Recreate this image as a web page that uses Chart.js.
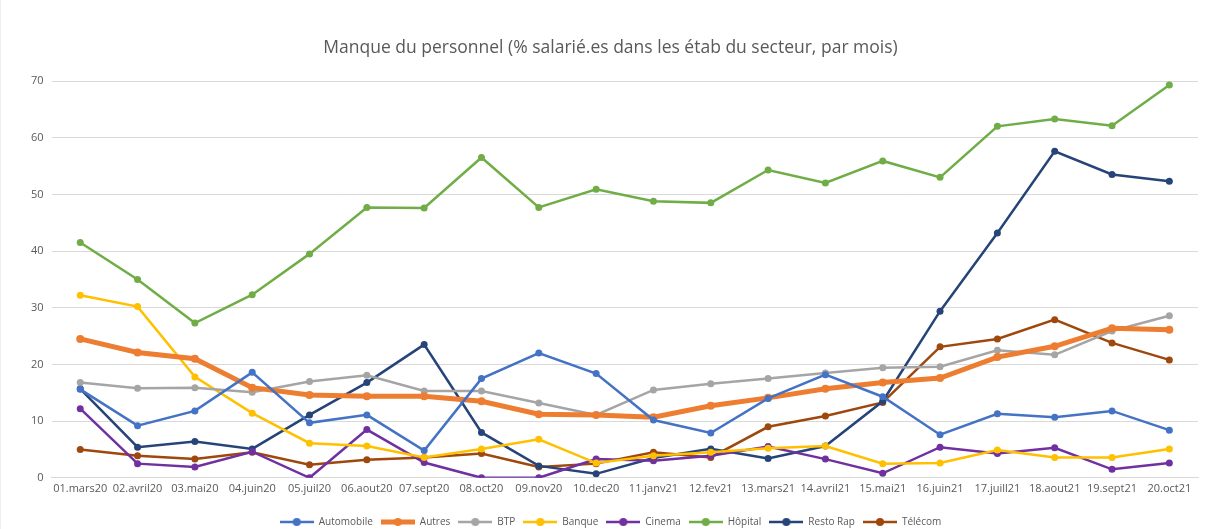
<!DOCTYPE html>
<html>
<head>
<meta charset="utf-8">
<script src="https://cdn.jsdelivr.net/npm/chart.js@4"></script>
<style>
  html, body { margin: 0; padding: 0; background: #fff; }
  #wrap { position: relative; width: 1208px; height: 529px; box-sizing: border-box; border-left: 1px solid #eee; }
</style>
</head>
<body>
<div id="wrap"><canvas id="myChart"></canvas></div>
<script>
const months = ['01.mars20', '02.avril20', '03.mai20', '04.juin20', '05.juil20', '06.aout20', '07.sept20', '08.oct20', '09.nov20', '10.dec20',
    '11.janv21', '12.fev21', '13.mars21', '14.avril21', '15.mai21', '16.juin21', '17.juill21', '18.aout21', '19.sept21', '20.oct21']

const automobile = [15.6, 9.2, 11.8, 18.6, 9.7, 11.1, 4.8, 17.5, 22.0, 18.4, 10.2, 7.9, 14.0, 18.2, 14.3, 7.6, 11.3, 10.7, 11.8, 8.4]
const autres = [24.5, 22.1, 21.0, 15.9, 14.6, 14.4, 14.4, 13.5, 11.2, 11.1, 10.7, 12.7, 14.1, 15.7, 16.8, 17.6, 21.3, 23.2, 26.4, 26.1]
const btp = [16.8, 15.8, 15.9, 15.1, 17.0, 18.1, 15.3, 15.3, 13.2, 11.1, 15.5, 16.6, 17.5, 18.5, 19.4, 19.6, 22.5, 21.7, 25.9, 28.6]
const banque = [32.2, 30.2, 17.8, 11.4, 6.1, 5.6, 3.6, 5.1, 6.8, 2.6, 3.9, 4.5, 5.2, 5.6, 2.5, 2.6, 4.9, 3.6, 3.6, 5.1]
const cinema = [12.2, 2.5, 1.9, 4.6, 0.0, 8.5, 2.7, 0.0, 0.0, 3.3, 3.0, 3.9, 5.5, 3.3, 0.8, 5.4, 4.3, 5.3, 1.5, 2.6]
const hopital = [41.5, 35.0, 27.3, 32.3, 39.5, 47.7, 47.6, 56.5, 47.7, 50.9, 48.8, 48.5, 54.3, 52.0, 55.9, 53.0, 62.0, 63.3, 62.1, 69.3]
const restoRap = [15.7, 5.4, 6.4, 5.1, 11.1, 16.8, 23.5, 8.0, 2.1, 0.7, 3.5, 5.1, 3.4, 5.6, 13.5, 29.4, 43.2, 57.6, 53.5, 52.3]
const telecom = [5.0, 3.9, 3.3, 4.5, 2.3, 3.2, 3.6, 4.3, 1.9, 2.5, 4.5, 3.6, 9.0, 10.9, 13.3, 23.1, 24.5, 27.9, 23.8, 20.8]

const seriesNames = ['Automobile', 'Autres', 'BTP', 'Banque', 'Cinema', 'Hôpital', 'Resto Rap', 'Télécom']
const seriesData = [automobile, autres, btp, banque, cinema, hopital, restoRap, telecom]
const seriesColors = ['#4472C4', '#ED7D31', '#A5A5A5', '#FFC000', '#7030A0', '#70AD47', '#264478', '#9E480E']
const lineWidths = [2.5, 5, 2.5, 2.5, 2.5, 2.5, 2.5, 2.5]

// legend marker: short line with a dot in the middle, like the office one
function legendMarker(color, width) {
    const c = document.createElement('canvas')
    c.width = 34
    c.height = 12
    const g = c.getContext('2d')
    g.strokeStyle = color
    g.lineWidth = width
    g.beginPath()
    g.moveTo(0, 6)
    g.lineTo(34, 6)
    g.stroke()
    g.fillStyle = color
    g.beginPath()
    g.arc(17, 6, 4, 0, Math.PI * 2)
    g.fill()
    return c
}

const ctx = document.getElementById('myChart');
const textColor = '#595959'

new Chart(ctx, {
    type: 'line',
    data: {
        labels: months,
        datasets: seriesNames.map((name, i) => ({
            label: name,
            data: seriesData[i],
            borderColor: seriesColors[i],
            backgroundColor: seriesColors[i],
            borderWidth: lineWidths[i],
            pointRadius: i === 1 ? 4 : 3.5,
            pointBorderWidth: 0,
            pointHoverRadius: 4,
            tension: 0
        }))
    },
    options: {
        responsive: true,
        maintainAspectRatio: false,
        animation: false,
        layout: {padding: {top: 38, left: 22, right: 10, bottom: -8}},
        plugins: {
            title: {
                display: true,
                text: 'Manque du personnel (% salarié.es dans les étab du secteur, par mois)',
                color: textColor,
                font: {family: 'Open Sans', size: 17.5, weight: 'normal'},
                padding: {top: 0, bottom: 22}
            },
            legend: {
                position: 'bottom',
                // empty title only used as a spacer above the items
                title: {display: true, text: ' ', font: {size: 10, lineHeight: 1}, padding: 0},
                labels: {
                    color: textColor,
                    font: {family: 'Open Sans', size: 10},
                    usePointStyle: true,
                    pointStyleWidth: 34,
                    padding: 8,
                    generateLabels: (chart) => chart.data.datasets.map((ds, i) => ({
                        text: ds.label,
                        fontColor: textColor,
                        pointStyle: legendMarker(seriesColors[i], i === 1 ? 5 : 2.5),
                        strokeStyle: 'transparent',
                        fillStyle: 'transparent',
                        lineWidth: 0,
                        datasetIndex: i,
                        hidden: false
                    }))
                }
            },
            tooltip: {enabled: false}
        },
        scales: {
            x: {
                offset: true,
                grid: {display: false, drawTicks: false},
                border: {color: '#D9D9D9', width: 1},
                ticks: {
                    color: textColor,
                    font: {family: 'Open Sans', size: 11},
                    autoSkip: false,
                    maxRotation: 0,
                    padding: 4
                }
            },
            y: {
                min: 0,
                max: 70,
                grid: {color: '#D9D9D9', drawTicks: false},
                border: {display: false},
                ticks: {
                    stepSize: 10,
                    color: textColor,
                    font: {family: 'Open Sans', size: 11},
                    padding: 8
                }
            }
        }
    }
})
</script>
</body>
</html>
